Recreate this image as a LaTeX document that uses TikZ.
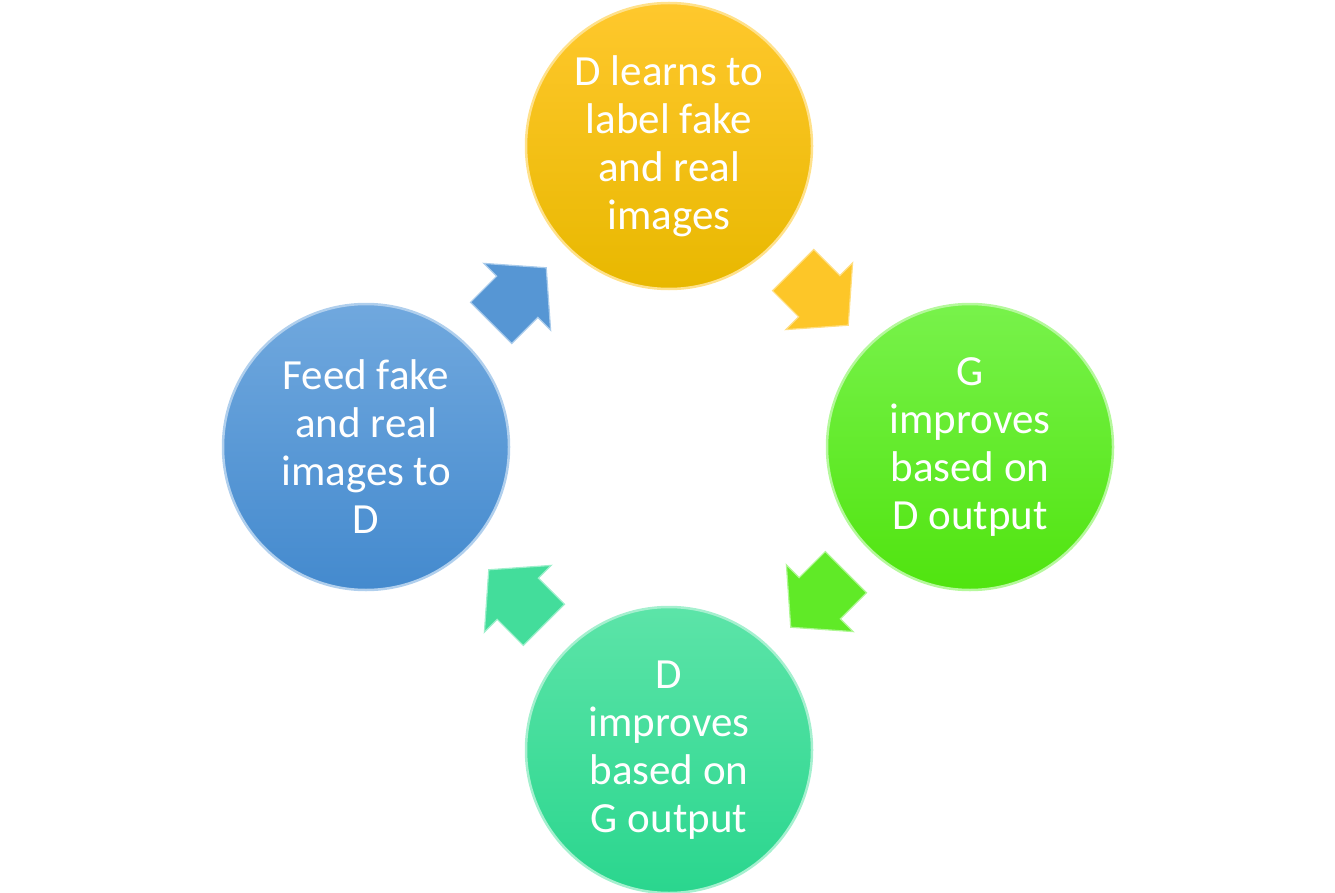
\documentclass[tikz,border=0pt]{standalone}
\usepackage{fontspec}
\setmainfont{Carlito}
\usepackage{tikz}
\usetikzlibrary{shapes.geometric, shapes.arrows, calc}
\usepackage{xcolor}
\definecolor{goldtop}{RGB}{255,200,45}
\definecolor{goldbot}{RGB}{232,184,0}
\definecolor{greentop}{RGB}{120,242,75}
\definecolor{greenbot}{RGB}{80,228,15}
\definecolor{tealtop}{RGB}{92,228,168}
\definecolor{tealbot}{RGB}{42,214,142}
\definecolor{bluetop}{RGB}{112,168,222}
\definecolor{bluebot}{RGB}{68,138,206}
\tikzstyle{stage} = [circle, minimum size=286pt, inner sep=0pt, align=center, text=white, font=\fontsize{43}{48}\selectfont, line width=2.5pt]
\tikzstyle{blockarrow} = [single arrow, minimum height=78pt, inner xsep=0pt, inner ysep=28.5pt, single arrow head extend=18pt, single arrow tip angle=98, line width=1.2pt]

\begin{document}
\begin{tikzpicture}[x=1pt, y=-1pt]
\useasboundingbox (0,0) rectangle (1335,893);

% Stages
\node (learn) [stage, top color=goldtop, bottom color=goldbot, draw=goldtop!55!white] at (669,146) {D learns to\\label fake\\and real\\images};
\node (gimp) [stage, top color=greentop, bottom color=greenbot, draw=greentop!55!white] at (970,447) {G\\improves\\based on\\D output};
\node (dimp) [stage, top color=tealtop, bottom color=tealbot, draw=tealtop!55!white] at (669,750) {D\\improves\\based on\\G output};
\node (feed) [stage, top color=bluetop, bottom color=bluebot, draw=bluetop!55!white] at (366,447) {Feed fake\\and real\\images to\\D};

% Arrows
\node (a1) [blockarrow, rotate=-45, xshift=-11pt, fill=goldtop!90!goldbot, draw=goldtop!60!white] at ($(learn)!0.5!(gimp)$) {};
\node (a2) [blockarrow, rotate=-135, xshift=-11pt, fill=greentop!40!greenbot, draw=greentop!60!white] at ($(gimp)!0.5!(dimp)$) {};
\node (a3) [blockarrow, rotate=135, xshift=-11pt, fill=tealtop!50!tealbot, draw=tealtop!60!white] at ($(dimp)!0.5!(feed)$) {};
\node (a4) [blockarrow, rotate=45, xshift=-11pt, fill=bluetop!40!bluebot, draw=bluetop!60!white] at ($(feed)!0.5!(learn)$) {};

\end{tikzpicture}
\end{document}
